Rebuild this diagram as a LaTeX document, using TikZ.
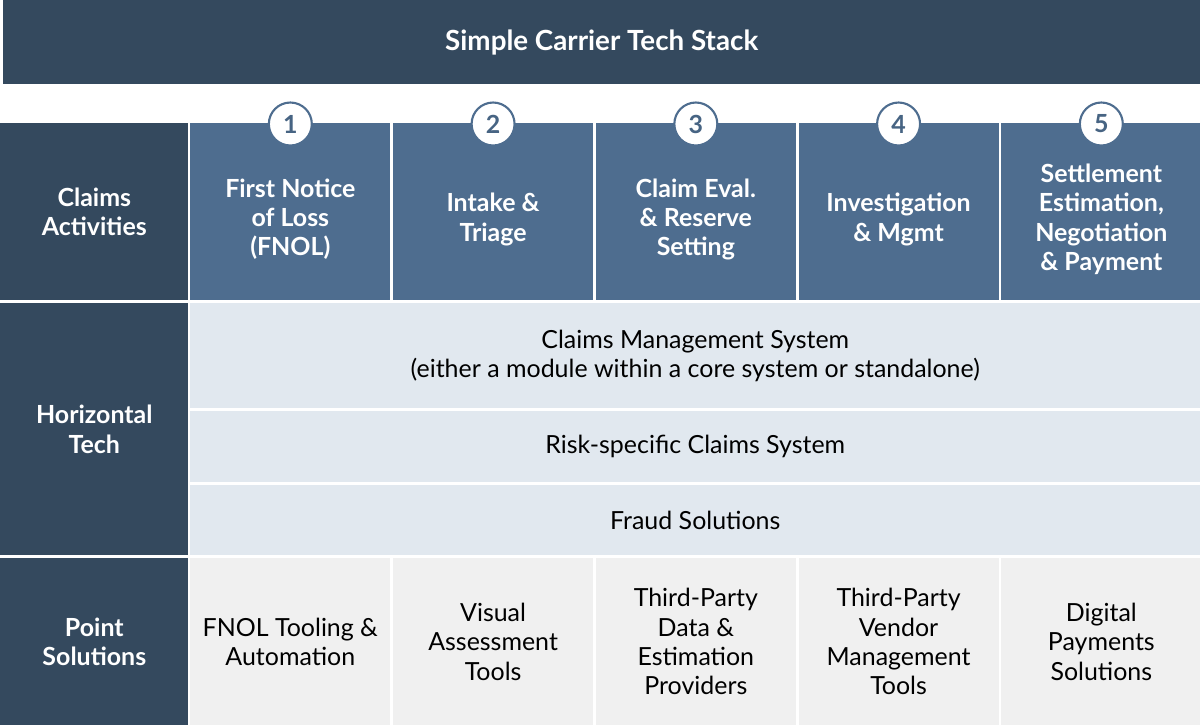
\documentclass[tikz,border=0pt]{standalone}
\usepackage{fontspec}
\setmainfont{Lato}
\usetikzlibrary{positioning}

\definecolor{stackdark}{HTML}{34495E}
\definecolor{stackmid}{HTML}{4E6D8F}
\definecolor{stacklight}{HTML}{E1E8EF}
\definecolor{stackgrey}{HTML}{F0F0F0}
\colorlet{numtext}{stackmid!75!stackdark}

\begin{document}
\begin{tikzpicture}[x=0.02cm,y=-0.02cm]
  \tikzstyle{cell} = [rectangle,inner sep=0pt,anchor=north west,align=center,
  font=\fontsize{14.2}{16.7}\selectfont]
  \tikzstyle{head} = [cell,fill=stackdark,text=white,
  font=\bfseries\fontsize{14.2}{16.7}\selectfont]
  \tikzstyle{act} = [cell,fill=stackmid,minimum width=4cm,minimum height=3.54cm]
  \tikzstyle{acttext} = [align=center,text=white,
  font=\bfseries\fontsize{14.2}{16.7}\selectfont]
  \tikzstyle{horiz} = [cell,fill=stacklight,minimum width=20.2cm]
  \tikzstyle{point} = [cell,fill=stackgrey,minimum width=4cm,minimum height=3.34cm]
  \tikzstyle{num} = [circle,draw=stackmid,line width=1.2pt,fill=white,
  minimum size=0.86cm,inner sep=0pt,text=numtext,
  font=\bfseries\fontsize{14.2}{16}\selectfont]

  \useasboundingbox (0,0) rectangle (1200,725);

  % title bar
  \node[head,name=title,minimum width=23.94cm,minimum height=1.68cm,
  font=\bfseries\fontsize{15.8}{18}\selectfont] at (3,0) {Simple Carrier Tech Stack};

  % row labels
  \node[head,name=lblact,minimum width=3.76cm,minimum height=3.54cm] at (0,123)
  {Claims\\Activities};
  \node[head,name=lblhoriz,minimum width=3.76cm,minimum height=5.04cm] at (0,303)
  {Horizontal\\Tech};
  \node[head,name=lblpoint,minimum width=3.76cm,minimum height=3.34cm] at (0,558)
  {Point\\Solutions};

  % claims activities, numbered
  \foreach \i/\txt in {1/{First Notice\\of Loss\\(FNOL)},
                       2/{Intake \&\\Triage},
                       3/{Claim Eval.\\\& Reserve\\Setting},
                       4/{Investigation\\\& Mgmt},
                       5/{Settlement\\Estimation,\\Negotiation\\\& Payment}} {
    \node[act,name=act\i] at ({190+202.75*(\i-1)},123) {};
    \node[acttext,name=acttxt\i] at ([yshift=-0.15cm]act\i.center) {\txt};
    \node[num,name=num\i] at ([yshift=-0.02cm]act\i.north) {\i};
  }

  % horizontal tech bars
  \node[horiz,name=cms,minimum height=2.1cm] at (190,303)
  {Claims Management System\\(either a module within a core system or standalone)};
  \node[horiz,name=risk,minimum height=1.42cm] at (190,411)
  {Risk-specific Claims System};
  \node[horiz,name=fraud,minimum height=1.4cm] at (190,485)
  {Fraud Solutions};

  % point solutions
  \foreach \i/\txt in {1/{FNOL Tooling \&\\Automation},
                       2/{Visual\\Assessment\\Tools},
                       3/{Third-Party\\Data \&\\Estimation\\Providers},
                       4/{Third-Party\\Vendor\\Management\\Tools},
                       5/{Digital\\Payments\\Solutions}} {
    \node[point,name=pt\i] at ({190+202.75*(\i-1)},558) {\txt};
  }
  %\path (act1) edge[dotted] (pt1);

\end{tikzpicture}
\end{document}
